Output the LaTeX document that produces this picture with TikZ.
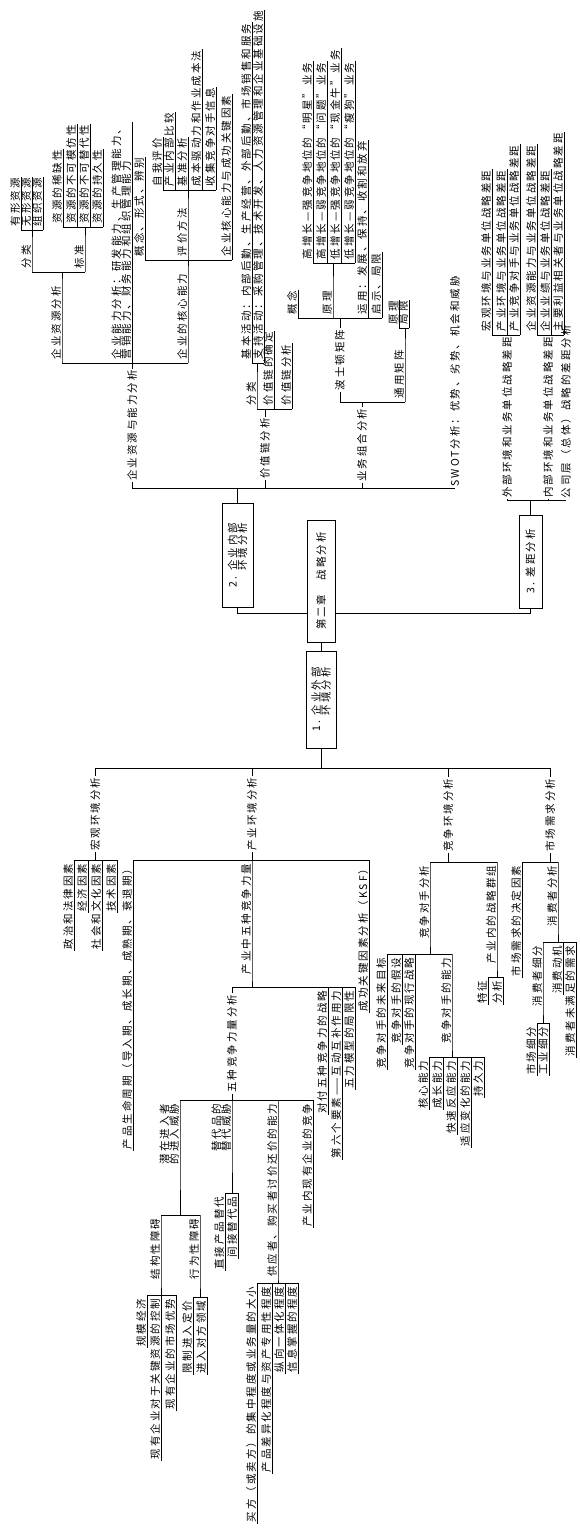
\documentclass[tikz,border=0pt]{standalone}
\usepackage{fontspec}
\newfontfamily\zh[LetterSpace=19]{Noto Sans CJK SC}
\newcommand\RLf[4]{\node[rl] (#1) at (#2,#3-2) {#4}; \draw (#2,#3) -- (#1.south east);}
\newcommand\RMd[5]{\node[rl] (#1) at (#2,#3-2) {#5}; \draw (#2,#3) -- (#1.south east) -- (#2,#4);}
\newcommand\LLf[4]{\node[ll] (#1) at (#2,#3+2) {#4}; \draw (#2,#3) -- (#1.south west);}
\newcommand\LMd[5]{\node[ll] (#1) at (#2,#3+2) {#5}; \draw (#2,#3) -- (#1.south west) -- (#2,#4);}
\newcommand\RIn[5]{\node[il] (#1) at (#2,{(#3+#4)/2}) {#5}; \draw (#2,#3) -- (#1.west); \draw (#1.east) -- (#2,#4);}
\newcommand\LIn[5]{\node[il] (#1) at (#2,{(#3+#4)/2}) {#5}; \draw (#2,#3) -- (#1.east); \draw (#1.west) -- (#2,#4);}
\begin{document}
\begin{tikzpicture}[x=1pt,y=-1pt,line width=0.9pt,
  t/.style={rotate=90,inner xsep=1.2pt,inner ysep=0.5pt,font=\zh\fontsize{10.5}{9.8}\selectfont},
  rl/.style={t,anchor=south west},
  ll/.style={t,anchor=south east},
  il/.style={t,anchor=center},
  bx/.style={t,draw,inner sep=2pt}]
\useasboundingbox (0,0) rectangle (580,1533);
\fill[white] (0,0) rectangle (580,1533);
% ---- central boxes ----
\node[bx,minimum width=122pt,minimum height=28pt] (C) at (321,581) {第二章　战略分析};
\node[bx,minimum width=97pt,minimum height=30pt,align=left] (B1) at (321,699.5) {1. 企业外部\\\phantom{1. }环境分析};
\node[bx,minimum width=104pt,minimum height=31pt,align=left] (B2) at (237.5,555) {2. 企业内部\\\phantom{2. }环境分析};
\node[bx,minimum width=93pt,minimum height=23pt] (B3) at (530.5,561.5) {3. 差距分析};
\draw (C.west) -- (B1.east);
\draw (C.north |- 0,613) -| (B2.west);
\draw (C.south |- 0,613) -| (B3.west);
\coordinate (J2) at (237.5,488);
\coordinate (J3) at (530.5,500);
\coordinate (J1) at (321,768);
\draw (B2.east) -- (J2);
\draw (B3.east) -- (J3);
\draw (B1.west) -- (J1);
\draw (132,488) -- (455,488);
\draw (507,500) -- (566,500);
\draw (95,768) -- (550,768);
% ---- 2. internal ----
\RIn{n1}{132}{488}{363}{企业资源与能力分析}
\RIn{n2}{265}{488}{409}{价值链分析}
\RIn{n3}{362}{488}{402}{业务组合分析}
\node[t,anchor=west] (n4) at (455,488) {SWOT分析：优势、劣势、机会和威胁};
% 企业资源与能力分析
\draw (62,363) -- (188,363);
\RMd{a1}{62}{363}{272}{企业资源分析}
\node[rl,align=left] (a2) at (132,361) {企业能力分析：研发能力、生产管理能力、\\营销能力、财务能力和组织管理能力};
\draw (132,363) -- (a2.south east);
\RMd{a3}{188}{363}{260}{企业的核心能力}
\draw (32,272) -- (85,272);
\RMd{a11}{32}{272}{230}{分类}
\draw (21,230) -- (43,230);
\RLf{r1}{21}{230}{有形资源}
\RLf{r2}{32}{230}{无形资源}
\RLf{r3}{43}{230}{组织资源}
\RMd{a12}{85}{272}{227}{标准}
\draw (63,227) -- (103,227);
\RLf{s1}{63}{227}{资源的稀缺性}
\RLf{s2}{77}{227}{资源的不可模仿性}
\RLf{s3}{90}{227}{资源的不可替代性}
\RLf{s4}{103}{227}{资源的持久性}
\draw (145,260) -- (232,260);
\RLf{c1}{145}{260}{概念、形式、辨别}
\RMd{c2}{188}{260}{190}{评价方法}
\RLf{c3}{232}{260}{企业核心能力与成功关键因素}
\draw (163,190) -- (216,190);
\RLf{e1}{163}{190}{自我评价}
\RLf{e2}{175}{190}{产业内部比较}
\RLf{e3}{188}{190}{基准分析}
\RLf{e4}{202}{190}{成本驱动力和作业成本法}
\RLf{e5}{216}{190}{收集竞争对手信息}
% 价值链分析
\draw (257,409) -- (292,409);
\RMd{v1}{257}{409}{363}{分类}
\draw (252,363) -- (264,363);
\RLf{v11}{252}{363}{基本活动：内部后勤、生产经营、外部后勤、市场销售和服务}
\RLf{v12}{264}{363}{支持活动：采购管理、技术开发、人力资源管理和企业基础设施}
\RLf{v2}{274}{409}{价值链的确定}
\RLf{v3}{292}{409}{价值链分析}
% 业务组合分析
\draw (340,402) -- (405,402);
\RIn{b1}{340}{402}{318}{波士顿矩阵}
\draw (298,318) -- (382,318);
\RLf{b11}{298}{318}{概念}
\RMd{b12}{333}{318}{263}{原理}
\draw (313,263) -- (355,263);
\RLf{q1}{313}{263}{高增长—强竞争地位的“明星”业务}
\RLf{q2}{327}{263}{高增长—弱竞争地位的“问题”业务}
\RLf{q3}{341}{263}{低增长—强竞争地位的“现金牛”业务}
\RLf{q4}{355}{263}{低增长—弱竞争地位的“瘦狗”业务}
\RLf{b13}{368}{318}{运用：发展、保持、收割和放弃}
\RLf{b14}{382}{318}{启示、局限}
\RMd{b2}{405}{402}{328}{通用矩阵}
\draw (399,328) -- (409,328);
\RLf{b21}{399}{328}{原理}
\RLf{b22}{409}{328}{局限}
% ---- 3. gap ----
\RIn{g1}{507}{500}{335}{外部环境和业务单位战略差距}
\draw (492,335) -- (520,335);
\RLf{g11}{492}{335}{宏观环境与业务单位战略差距}
\RLf{g12}{507}{335}{产业环境与业务单位战略差距}
\RLf{g13}{520}{335}{产业竞争对手与业务单位战略差距}
\RIn{g2}{548}{500}{335}{内部环境和业务单位战略差距}
\draw (537,335) -- (564,335);
\RLf{g21}{537}{335}{企业资源能力与业务单位战略差距}
\RLf{g22}{551}{335}{企业业绩与业务单位战略差距}
\RLf{g23}{564}{335}{主要利益相关者与业务单位战略差距}
\node[t,anchor=west] (g3) at (566,500) {公司层（总体）战略的差距分析};
% ---- 1. external ----
\LIn{m1}{95}{768}{860}{宏观环境分析}
\draw (74,860) -- (117,860);
\LLf{m11}{74}{860}{政治和法律因素}
\LLf{m12}{88}{860}{经济因素}
\LLf{m13}{102}{860}{社会和文化因素}
\LLf{m14}{117}{860}{技术因素}
\LIn{i1}{252}{768}{860}{产业环境分析}
\draw (133,860) -- (369,860);
\LLf{i11}{133}{860}{产品生命周期（导入期、成长期、成熟期、衰退期）}
\LMd{i12}{252}{860}{987}{产业中五种竞争力量}
\LLf{i13}{369}{860}{成功关键因素分析（KSF）}
\draw (232,987) -- (355,987);
\LIn{f1}{232}{987}{1100}{五种竞争力量分析}
\LLf{f2}{328}{987}{对付五种竞争力的战略}
\LLf{f3}{342}{987}{第六个要素——互动互补作用力}
\LLf{f4}{355}{987}{五力模型的局限性}
\draw (180,1100) -- (313,1100);
\node[ll,align=left] (p1) at (180,1102) {潜在进入者\\的进入威胁};
\draw (180,1100) -- (p1.south west) -- (180,1215);
\draw (161,1215) -- (200,1215);
\LMd{p11}{161}{1215}{1295}{结构性障碍}
\draw (147,1295) -- (177,1295);
\LLf{p111}{147}{1295}{规模经济}
\LLf{p112}{161}{1295}{现有企业对于关键资源的控制}
\LLf{p113}{176}{1295}{现有企业的市场优势}
\LMd{p12}{200}{1215}{1297}{行为性障碍}
\draw (193,1297) -- (207,1297);
\LLf{p121}{193}{1297}{限制进入定价}
\LLf{p122}{207}{1297}{进入对方领域}
\node[ll,align=left] (p2) at (232,1102) {替代品的\\替代威胁};
\draw (232,1100) -- (p2.south west) -- (232,1193);
\draw (225,1193) -- (238,1193);
\LLf{p21}{225}{1193}{直接产品替代}
\LLf{p22}{238}{1193}{间接替代品}
\LMd{p3}{278}{1100}{1283}{供应者、购买者讨价还价的能力}
\draw (257,1283) -- (298,1283);
\LLf{p31}{257}{1283}{买方（或卖方）的集中程度或业务量的大小}
\LLf{p32}{272}{1283}{产品差异化程度与资产专用性程度}
\LLf{p33}{285}{1283}{纵向一体化程度}
\LLf{p34}{298}{1283}{信息掌握的程度}
\LLf{p4}{313}{1100}{产业内现有企业的竞争}
% 竞争环境分析
\LIn{k1}{448}{768}{862}{竞争环境分析}
\draw (430,862) -- (497,862);
\LMd{k11}{430}{862}{954}{竞争对手分析}
\draw (387,954) -- (452,954);
\LLf{k111}{387}{954}{竞争对手的未来目标}
\LLf{k112}{402}{954}{竞争对手的假设}
\LLf{k113}{415}{954}{竞争对手的现行战略}
\LMd{k114}{452}{954}{1057}{竞争对手的能力}
\draw (429,1057) -- (484,1057);
\LLf{h1}{429}{1057}{核心能力}
\LLf{h2}{443}{1057}{成长能力}
\LLf{h3}{457}{1057}{快速反应能力}
\LLf{h4}{471}{1057}{适应变化的能力}
\LLf{h5}{484}{1057}{持久力}
\LMd{k12}{497}{862}{977}{产业内的战略群组}
\draw (488,977) -- (503,977);
\LLf{k121}{488}{977}{特征}
\LLf{k122}{503}{977}{分析}
% 市场需求分析
\LIn{d1}{550}{768}{862}{市场需求分析}
\draw (522,862) -- (558,862);
\LLf{d11}{522}{862}{市场需求的决定因素}
\LMd{d12}{558}{862}{942}{消费者分析}
\draw (543,942) -- (576,942);
\LMd{d121}{543}{942}{1023}{消费者细分}
\draw (537,1023) -- (549,1023);
\LLf{d1211}{537}{1023}{市场细分}
\LLf{d1212}{549}{1023}{工业细分}
\LLf{d122}{563}{942}{消费动机}
\LLf{d123}{576}{942}{消费者未满足的需求}
\end{tikzpicture}
\end{document}
